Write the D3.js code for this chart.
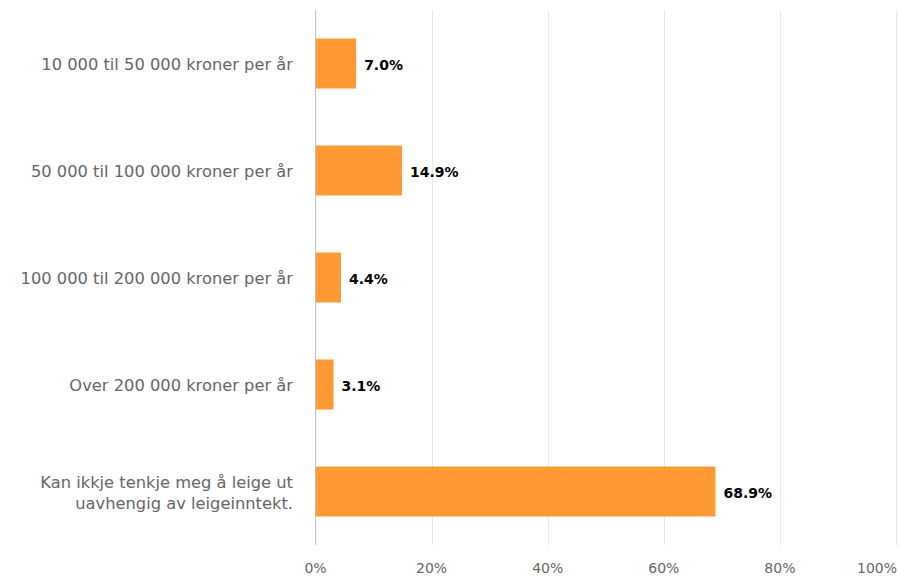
<!DOCTYPE html>
<html><head><meta charset="utf-8">
<script src="https://cdn.jsdelivr.net/npm/d3@7"></script>
<style>
body{margin:0;background:#fff;}
text{font-family:"DejaVu Sans",Verdana,sans-serif;}
</style></head>
<body><svg id="c" width="899" height="577"></svg>
<script>
const categories = [
  ["10 000 til 50 000 kroner per år"],
  ["50 000 til 100 000 kroner per år"],
  ["100 000 til 200 000 kroner per år"],
  ["Over 200 000 kroner per år"],
  ["Kan ikkje tenkje meg å leige ut", "uavhengig av leigeinntekt."]
];
const values = [7.0, 14.9, 4.4, 3.1, 68.9];
const ticks = [0, 20, 40, 60, 80, 100];

const svg = d3.select("#c");
const m = {left: 315.5, right: 896, top: 10, bottom: 545};
const x = d3.scaleLinear().domain([0, 100]).range([m.left, m.right]);
const y = d3.scaleBand().domain(d3.range(categories.length)).range([m.top, m.bottom]).paddingInner(0.533).paddingOuter(0.2665);

// gridlines
svg.append("g").selectAll("line").data(ticks.slice(1)).join("line")
  .attr("x1", d => Math.round(x(d)) + 0.5).attr("x2", d => Math.round(x(d)) + 0.5)
  .attr("y1", m.top).attr("y2", m.bottom)
  .attr("stroke", "#e6e6e6").attr("stroke-width", 1);

// bars
svg.append("g").selectAll("rect").data(values).join("rect")
  .attr("x", x(0)).attr("y", (d, i) => y(i))
  .attr("width", d => x(d) - x(0)).attr("height", y.bandwidth())
  .attr("fill", "#ff9933");

// axis line
svg.append("line").attr("x1", 315.5).attr("x2", 315.5).attr("y1", m.top).attr("y2", m.bottom)
  .attr("stroke", "#c0c0c0").attr("stroke-width", 1);

// value labels
svg.append("g").selectAll("text").data(values).join("text")
  .attr("x", d => x(d) + 8).attr("y", (d, i) => y(i) + y.bandwidth() / 2 + 1.5)
  .attr("dy", "0.35em").attr("font-size", 14).attr("font-weight", "bold").attr("fill", "#000")
  .text(d => d.toFixed(1) + "%");

// category labels
const cl = svg.append("g").selectAll("text").data(categories).join("text")
  .attr("text-anchor", "end").attr("font-size", 16.3).attr("fill", "#666")
  .attr("transform", (d, i) => `translate(293,${y(i) + y.bandwidth() / 2 + 1})`);
cl.each(function(lines) {
  const t = d3.select(this);
  const lh = 21;
  lines.forEach((s, k) => {
    t.append("tspan").attr("x", 0).attr("y", (k - (lines.length - 1) / 2) * lh).attr("dy", "0.35em").text(s);
  });
});

// tick labels
svg.append("g").selectAll("text").data(ticks).join("text")
  .attr("x", (d, i) => i === ticks.length - 1 ? 897 : x(d)).attr("y", 573)
  .attr("text-anchor", (d, i) => i === ticks.length - 1 ? "end" : "middle")
  .attr("font-size", 14).attr("fill", "#666").text(d => d + "%");
</script></body></html>
